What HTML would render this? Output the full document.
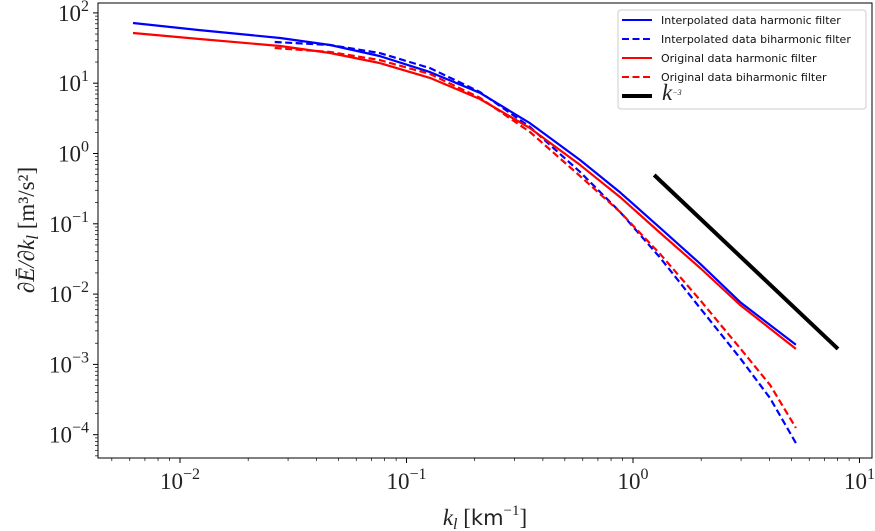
<!DOCTYPE html>
<html><head><meta charset="utf-8"><style>
body{margin:0;background:#fff;}
svg{display:block;}
.tk{font-family:"Liberation Serif",serif;font-size:23px;fill:#222;}
.lg{font-family:"DejaVu Sans","Liberation Sans",sans-serif;font-size:11px;fill:#111;}
</style></head><body>
<svg id="chart" width="875" height="531" xmlns="http://www.w3.org/2000/svg"></svg>
<script>
const kMain=[0.0062,0.0122,0.0277,0.046,0.076,0.127,0.211,0.351,0.583,0.877,1.32,1.98,2.97,5.24];
const interpHarmonic=[71.8,57,44,35,24.4,14.4,7.3,2.7,0.81,0.28,0.087,0.027,0.0077,0.0019];
const origHarmonic=[51.8,42.5,33.8,26.9,19.4,11.9,5.96,2.3,0.69,0.24,0.074,0.0235,0.007,0.00166];
const kBi=[0.0262,0.046,0.076,0.127,0.211,0.351,0.583,0.877,1.32,1.98,2.97,4.03,5.24];
const interpBiharmonic=[38.6,35,26.9,16.4,7.5,2.38,0.55,0.147,0.0327,0.0063,0.00123,0.00033,0.000076];
const origBiharmonic=[31.7,27.8,21.4,13.5,6.2,2.02,0.48,0.147,0.037,0.0082,0.0017,0.00051,0.000125];
const kRef=[1.24,8.04];
const eRef=[0.494,0.00166];
const xTicks=[-2,-1,0,1];
const yTicks=[2,1,0,-1,-2,-3,-4];
const legendLabels=["Interpolated data harmonic filter","Interpolated data biharmonic filter","Original data harmonic filter","Original data biharmonic filter"];

const L=98,R=872,T=3,B=458;
const X=k=>633+226.5*Math.log10(k);
const Y=v=>153.5-70.3*Math.log10(v);
const svg=document.getElementById('chart');
const NS='http://www.w3.org/2000/svg';
function mk(tag,attrs,parent){const e=document.createElementNS(NS,tag);for(const a in attrs)e.setAttribute(a,attrs[a]);(parent||svg).appendChild(e);return e;}

for(let d=-3;d<=1;d++){for(let m=1;m<10;m++){const v=Math.pow(10,d)*m;const x=X(v);if(x<L||x>R)continue;
 const t=mk('line',{x1:x,x2:x,y1:B,y2:B+(m===1?5:3),stroke:'#000','stroke-width':m===1?1:0.7});
 
 }}
for(let d=-5;d<=2;d++){for(let m=1;m<10;m++){const v=Math.pow(10,d)*m;const y=Y(v);if(y<T||y>B)continue;
 const t=mk('line',{x1:L,x2:L-(m===1?5:3),y1:y,y2:y,stroke:'#000','stroke-width':m===1?1:0.7});
 
 }}
xTicks.forEach(p=>{const x=X(Math.pow(10,p));const t=mk('text',{x:x,y:489,'text-anchor':'middle',class:'tk'});
 
 
 t.innerHTML='10<tspan dy="-10" font-size="16">'+(p<0?'\u2212'+(-p):p)+'</tspan>';});
yTicks.forEach(p=>{const y=Y(Math.pow(10,p));const t=mk('text',{x:89,y:y+8,class:'tk','text-anchor':'end'});
 
 
 t.innerHTML='10<tspan dy="-10" font-size="16">'+(p<0?'\u2212'+(-p):p)+'</tspan>';});

function series(ks,vs,color,dash,name,w){const pts=ks.map((k,i)=>X(k).toFixed(1)+','+Y(vs[i]).toFixed(1)).join(' ');
 const p=mk('polyline',{points:pts,fill:'none',stroke:color,'stroke-width':w||2.2,'stroke-linejoin':'round','stroke-dasharray':dash||'none'});
 
 }
series(kMain,interpHarmonic,'#0000ff',null,'interpolated-harmonic-line');
series(kBi,interpBiharmonic,'#0000ff','7,3.5','interpolated-biharmonic-line');
series(kMain,origHarmonic,'#ff0000',null,'original-harmonic-line');
series(kBi,origBiharmonic,'#ff0000','7,3.5','original-biharmonic-line');
series(kRef,eRef,'#000',null,'k-minus-3-reference-line',4);

const frame=mk('rect',{x:L,y:T,width:R-L,height:B-T,fill:'none',stroke:'#000','stroke-width':1});



const lg=mk('g',{});


mk('rect',{x:618,y:10,width:248,height:99,rx:3,fill:'#fff',stroke:'#ccc','stroke-width':1},lg);
const lc=['#0000ff','#0000ff','#ff0000','#ff0000'],ld=[null,'7,3.5',null,'7,3.5'];
legendLabels.forEach((s,i)=>{const y=20+i*19;
 const e=mk('g',{},lg);
 
 
 mk('line',{x1:622,x2:652,y1:y,y2:y,stroke:lc[i],'stroke-width':2,'stroke-dasharray':ld[i]||'none'},e);
 const t=mk('text',{x:661,y:y+4,class:'lg'},e);t.textContent=s;});
const e5=mk('g',{},lg);


mk('line',{x1:622,x2:652,y1:96,y2:96,stroke:'#000','stroke-width':4},e5);
const t5=mk('text',{x:662,y:100,class:'tk','font-size':'11','font-style':'italic'},e5);
t5.innerHTML='k<tspan dy="-5" font-size="8">\u22123</tspan>';

const xl=mk('text',{x:485,y:525,'text-anchor':'middle',class:'tk','font-size':'26'});


xl.innerHTML='<tspan font-style="italic">k</tspan><tspan font-size="16" dy="4" font-style="italic">l</tspan><tspan dy="-4"> [</tspan><tspan font-family="DejaVu Sans,sans-serif" font-size="21">km</tspan><tspan dy="-10" font-size="15">\u22121</tspan><tspan dy="10">]</tspan>';
const yl=mk('text',{x:0,y:0,'text-anchor':'middle',class:'tk','font-size':'27',transform:'translate(34,230) rotate(-90)'});


yl.innerHTML='<tspan font-style="italic">\u2202\u0112/\u2202k</tspan><tspan font-size="17" dy="4" font-style="italic">l</tspan><tspan dy="-4"> [m\u00b3/s\u00b2]</tspan>';
</script>
</body></html>
